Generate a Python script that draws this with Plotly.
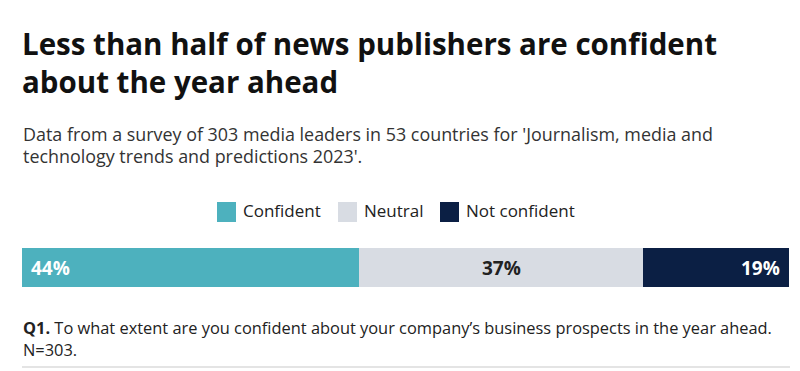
import plotly.graph_objects as go

categories = ["Confident", "Neutral", "Not confident"]
values = [44, 37, 19]
labels = ["44%", "37%", "19%"]
colors = ["#4db1be", "#d8dce3", "#0b1f44"]
text_colors = ["#ffffff", "#222222", "#ffffff"]

FONT = "Open Sans"
OFF = 8  # page body margin
W, H = 792, 363
BAR_L, BAR_R, BAR_T, BAR_B = 22, 789, 248, 287
L = BAR_L - OFF
R = W - (BAR_R - OFF)
T = BAR_T - OFF
B = H - (BAR_B - OFF)
PH = H - T - B
PW = W - L - R


def py(y):
    return (H - B - (y - OFF)) / PH


def px(x):
    return (x - OFF - L) / PW


fig = go.Figure()
for c, v, col in zip(categories, values, colors):
    fig.add_trace(go.Bar(
        y=["Q1"], x=[v], name=c, orientation="h",
        marker=dict(color=col, line=dict(width=0)),
        hoverinfo="skip", showlegend=False,
    ))

annotations = []

def text(t, x, y, size, color, anchor="left", bold=False):
    annotations.append(dict(
        text=t, xref="paper", yref="paper", x=px(x), y=py(y),
        xanchor=anchor, yanchor="middle", showarrow=False, align="left",
        font=dict(size=size, color=color, family=FONT, weight="bold" if bold else "normal"),
    ))

# title / subtitle / footnote
text("Less than half of news publishers are confident", 20, 43, 29.5, "#111111", bold=True)
text("about the year ahead", 20, 81, 29.5, "#111111", bold=True)
text("Data from a survey of 303 media leaders in 53 countries for 'Journalism, media and", 21, 134, 17.9, "#333333")
text("technology trends and predictions 2023'.", 21, 156, 17.9, "#333333")
text("<b>Q1.</b> To what extent are you confident about your company’s business prospects in the year ahead.", 21, 327, 16.4, "#222222")
text("N=303.", 21, 349, 16.4, "#222222")

# percent labels inside bars (data coordinates)
cum = 0
for i, (v, lab, tc) in enumerate(zip(values, labels, text_colors)):
    if i == 0:
        xv, anc, sh = cum, "left", 7
    elif i == len(values) - 1:
        xv, anc, sh = cum + v, "right", -7
    else:
        xv, anc, sh = cum + v / 2, "center", 0
    annotations.append(dict(
        text=f"<b>{lab}</b>", x=xv, y=0, xref="x", yref="y", xanchor=anc, yanchor="middle",
        xshift=sh, showarrow=False, font=dict(size=19, color=tc, family=FONT),
    ))
    cum += v

# manual legend
shapes = []
legend_x = [217, 338, 440]
for c, col, lx in zip(categories, colors, legend_x):
    shapes.append(dict(type="rect", xref="paper", yref="paper",
                       x0=px(lx), x1=px(lx + 19), y0=py(222), y1=py(202),
                       fillcolor=col, line=dict(width=0)))
    text(c, lx + 24, 210.5, 17, "#222222")

shapes.append(dict(type="line", xref="paper", yref="paper", x0=px(22), x1=px(790),
                   y0=py(367), y1=py(367), line=dict(color="#e4e4e4", width=2)))

fig.update_layout(
    width=W, height=H,
    barmode="stack", bargap=0,
    margin=dict(l=L, r=R, t=T, b=B),
    paper_bgcolor="white", plot_bgcolor="white",
    xaxis=dict(range=[0, 100], visible=False, fixedrange=True),
    yaxis=dict(visible=False, fixedrange=True),
    showlegend=False,
    annotations=annotations,
    shapes=shapes,
)

fig.write_html("out.html")
